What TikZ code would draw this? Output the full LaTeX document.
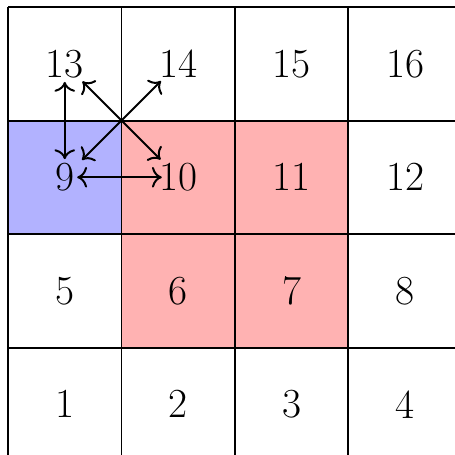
\documentclass[tikz,border=0pt]{standalone}
\usepackage{amsmath}
\usepackage{tikz}
\usetikzlibrary{arrows.meta}

\begin{document}
\begin{tikzpicture}[x=2cm,y=2cm,>={To[scale=1.3]},
    num/.style={font=\huge},
    hop/.style={line width=1pt,<->,shorten <=#1,shorten >=#1}]

\useasboundingbox (-0.0705,0.053) rectangle (3.93,4.062);

% Shaded cells
\fill[red!30] (1,1) rectangle (3,3);
\fill[blue!30] (0,2) rectangle (1,3);

% Grid
\foreach \k in {0,...,4}{
    \draw[line width=1pt] (\k,0) -- (\k,4);
    \draw[line width=1pt] (0,\k) -- (4,\k);
}

% Numbers
\foreach \r in {0,...,3}{
    \foreach \c in {1,...,4}{
        \pgfmathtruncatemacro{\n}{4*\r+\c}
        \node[num] (c\n) at (\c-0.5,\r+0.5) {\n};
    }
}

% Moves
\draw[hop=0.32cm] (c13.center) -- (c9.center);
\draw[hop=0.44cm] (c13.center) -- (c10.center);
\draw[hop=0.43cm] (c14.center) -- (c9.center);
\draw[hop=0.22cm,shorten >=0.29cm] (c9.center) -- (c10.center);

\end{tikzpicture}
\end{document}
